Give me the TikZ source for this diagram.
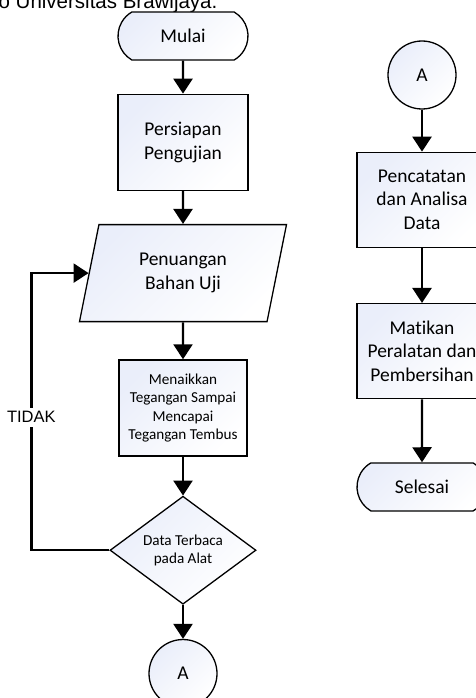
\documentclass[tikz,border=0pt]{standalone}
\usepackage{fontspec}
\setmainfont{Carlito}[Ligatures=NoCommon]
\newfontfamily\arialfont{Liberation Sans}
\usetikzlibrary{arrows.meta,positioning,shapes.geometric,shapes.misc}
\definecolor{isian}{RGB}{234,238,250}
\tikzset{
    every picture/.style={
        x=1pt,y=1pt,line width=1.3pt,>={Triangle[width=19pt,length=15pt]},
        node distance=33pt,
        every node/.style={align=center,font=\fontsize{19.5}{23.5}\selectfont},
        bentuk/.style={draw,top color=isian,bottom color=white,shading angle=45},
        terminal/.style={bentuk,rounded rectangle,rounded rectangle arc length=120,minimum width=130pt,minimum height=48pt,inner sep=0pt},
        proses/.style={bentuk,rectangle,minimum width=130pt,minimum height=96pt,inner sep=0pt},
        masukan/.style={bentuk,trapezium,trapezium left angle=63.7,trapezium right angle=116.3,trapezium stretches body,minimum width=207pt,minimum height=97pt,inner sep=0pt},
        keputusan/.style={bentuk,diamond,aspect=1.35,minimum width=146pt,minimum height=108pt,inner sep=0pt},
        konektor/.style={bentuk,circle,minimum size=68pt,inner sep=0pt},
        kecil/.style={font=\fontsize{15.2}{18.3}\selectfont},
        garis/.style={line width=2.4pt}
    }
}

\begin{document}
\begin{tikzpicture}
    \useasboundingbox (0,0) rectangle (476,-698);
    \clip (0,0) rectangle (476,-698);
    \node[anchor=base west,inner sep=0pt,font=\arialfont\fontsize{20.5}{24}\selectfont] (judul) at (-2,-9) {o Universitas Brawijaya.};
    % kolom kiri
    \node[terminal]              (0) at (183,-36) {Mulai};
    \node[proses]                (1) [below=of 0] {Persiapan\\Pengujian};
    \node[masukan]               (2) [below=of 1] {Penuangan\\Bahan Uji};
    \node[proses,kecil,minimum width=128pt] (3) [below=37pt of 2] {Menaikkan\\Tegangan Sampai\\Mencapai\\Tegangan Tembus};
    \node[keputusan,kecil]       (4) [below=39pt of 3] {Data Terbaca\\pada Alat};
    \node[konektor]              (5) [below=34pt of 4] {A};
    % kolom kanan
    \node[konektor]              (6) at (422,-75) {A};
    \node[proses,minimum height=95pt] (7) [below=42pt of 6] {Pencatatan\\dan Analisa\\Data};
    \node[proses,minimum height=95pt] (8) [below=55pt of 7] {Matikan\\Peralatan dan\\Pembersihan};
    \node[terminal]              (9) [below=63pt of 8] {Selesai};
    \path[->,garis] (0) edge (1)
             (1) edge (2)
             (2) edge (3)
             (3) edge (4)
             (4) edge (5)
             (6) edge (7)
             (7) edge (8)
             (8) edge (9);
    \draw[->,garis] (4.west) -- ++(-78pt,0) |- node[pos=.24,fill=white,inner sep=4pt,font=\arialfont\fontsize{16.5}{20}\selectfont] {TIDAK} (2.left side);
\end{tikzpicture}
\end{document}
